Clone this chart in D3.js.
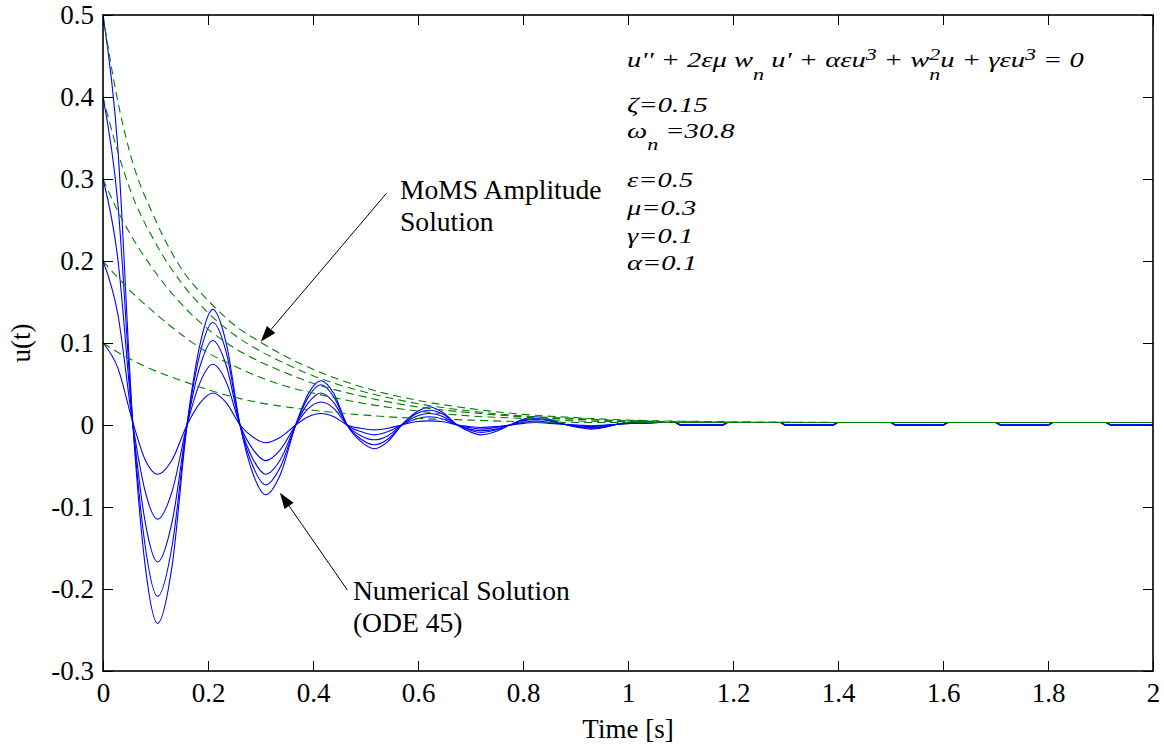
<!DOCTYPE html>
<html>
<head>
<meta charset="utf-8">
<script src="https://cdn.jsdelivr.net/npm/d3@7"></script>
<style>
  body { margin: 0; background: #fff; }
  svg text { font-family: "Liberation Serif", "Times New Roman", serif; fill: #000; }
</style>
</head>
<body>
<svg id="chart" width="1164" height="746"></svg>
<script>
const xTicks = [0, 0.2, 0.4, 0.6, 0.8, 1, 1.2, 1.4, 1.6, 1.8, 2];
const yTicks = [-0.3, -0.2, -0.1, 0, 0.1, 0.2, 0.3, 0.4, 0.5];

// Numerical solution (ODE 45), one array per initial amplitude.
const tNum = [0, 0.028, 0.057, 0.08, 0.104, 0.132, 0.16, 0.185, 0.209, 0.235, 0.261, 0.286, 0.31, 0.338,
  0.367, 0.391, 0.415, 0.44, 0.465, 0.491, 0.517, 0.543, 0.569, 0.595, 0.622, 0.648, 0.675, 0.698, 0.72,
  0.748, 0.775, 0.8, 0.825, 0.85, 0.878, 0.905, 0.93, 0.955, 0.98, 1.005, 1.03];
const num05 = [0.5, 0.34, 0, -0.17, -0.242, -0.17, 0, 0.099, 0.141, 0.099, 0, -0.06, -0.085, -0.06,
  0, 0.038, 0.054, 0.038, 0, -0.02, -0.029, -0.02, 0, 0.015, 0.022, 0.015, 0, -0.008, -0.012,
  -0.008, 0, 0.007, 0.01, 0.007, 0.001, -0.003, -0.005, -0.003, 0.001, 0.004, 0.005];
const num04 = [0.4, 0.272, 0, -0.146, -0.209, -0.146, 0, 0.088, 0.125, 0.088, 0, -0.051, -0.073, -0.051,
  0, 0.034, 0.049, 0.034, 0, -0.017, -0.024, -0.017, 0, 0.013, 0.018, 0.013, 0, -0.006, -0.009,
  -0.006, 0, 0.006, 0.008, 0.006, 0.001, -0.002, -0.004, -0.002, 0.001, 0.003, 0.004];
const num03 = [0.3, 0.204, 0, -0.117, -0.167, -0.117, 0, 0.072, 0.103, 0.072, 0, -0.042, -0.06, -0.042,
  0, 0.027, 0.039, 0.027, 0, -0.013, -0.018, -0.013, 0, 0.01, 0.014, 0.01, 0, -0.005, -0.007,
  -0.005, 0, 0.005, 0.007, 0.005, 0.001, -0.002, -0.003, -0.002, 0.001, 0.002, 0.003];
const num02 = [0.2, 0.136, 0, -0.08, -0.115, -0.08, 0, 0.052, 0.074, 0.052, 0, -0.03, -0.0435, -0.03,
  0, 0.02, 0.028, 0.02, 0, -0.008, -0.012, -0.008, 0, 0.007, 0.01, 0.007, 0, -0.003, -0.005,
  -0.003, 0, 0.003, 0.005, 0.003, 0.001, -0.001, -0.002, -0.001, 0.001, 0.002, 0.002];
const num01 = [0.1, 0.07, 0.003, -0.042, -0.06, -0.042, 0, 0.027, 0.039, 0.027, 0, -0.015, -0.0216, -0.015,
  0, 0.01, 0.014, 0.01, 0, -0.004, -0.006, -0.004, 0, 0.004, 0.005, 0.004, 0, -0.002, -0.003,
  -0.002, 0, 0.002, 0.003, 0.002, 0.001, 0, -0.001, 0, 0.001, 0.002, 0.002];
// Settled tail shared by all numerical curves (solver steps show as small dips).
const tailT = [1.06, 1.09, 1.10, 1.18, 1.19, 1.29, 1.30, 1.39, 1.40, 1.50, 1.51, 1.60, 1.61, 1.70, 1.71, 1.80, 1.81, 1.91, 1.92, 2.0];
const tailU = [0.003, 0.003, 0, 0, 0.003, 0.003, 0, 0, 0.003, 0.003, 0, 0, 0.003, 0.003, 0, 0, 0.003, 0.003, 0, 0];

// MoMS amplitude solution (dashed envelopes).
const tAmp = [0, 0.025, 0.05, 0.1, 0.15, 0.2, 0.25, 0.3, 0.35, 0.4, 0.5, 0.6, 0.7, 0.8, 0.9, 1.0, 1.2, 1.5, 2.0];
const amp05 = [0.5, 0.405, 0.335, 0.25, 0.19, 0.152, 0.122, 0.101, 0.083, 0.068, 0.045, 0.03, 0.02, 0.013, 0.009, 0.006, 0.004, 0.003, 0.003];
const amp04 = [0.4, 0.34, 0.29, 0.222, 0.173, 0.137, 0.11, 0.09, 0.074, 0.06, 0.04, 0.026, 0.017, 0.011, 0.008, 0.005, 0.0035, 0.003, 0.003];
const amp03 = [0.3, 0.265, 0.235, 0.186, 0.147, 0.117, 0.094, 0.077, 0.063, 0.051, 0.034, 0.022, 0.015, 0.01, 0.007, 0.005, 0.003, 0.003, 0.003];
const amp02 = [0.2, 0.182, 0.165, 0.136, 0.11, 0.088, 0.072, 0.058, 0.047, 0.039, 0.026, 0.017, 0.011, 0.008, 0.005, 0.004, 0.003, 0.003, 0.003];
const amp01 = [0.1, 0.09, 0.081, 0.066, 0.054, 0.043, 0.034, 0.027, 0.022, 0.018, 0.012, 0.008, 0.006, 0.004, 0.003, 0.003, 0.003, 0.003, 0.003];

const numSeries = [num01, num02, num03, num04, num05];
const ampSeries = [amp01, amp02, amp03, amp04, amp05];

const margin = {left: 103, right: 11, top: 15, bottom: 75};
const width = 1164, height = 746;
const fontSize = "27px";

const svg = d3.select("#chart");
const x = d3.scaleLinear().domain([0, 2]).range([margin.left, width - margin.right]);
const y = d3.scaleLinear().domain([-0.3, 0.5]).range([height - margin.bottom, margin.top]);

const fmt = d => String(+d.toFixed(1));

svg.append("clipPath").attr("id", "plotclip")
  .append("rect")
    .attr("x", x(0)).attr("y", y(0.5))
    .attr("width", x(2) - x(0)).attr("height", y(-0.3) - y(0.5));

const line = d3.line()
    .x(d => x(d[0]))
    .y(d => y(d[1]))
    .curve(d3.curveMonotoneX);

const plot = svg.append("g").attr("clip-path", "url(#plotclip)");

// numerical solutions (blue, solid)
numSeries.forEach(vals => {
  const pts = tNum.map((t, i) => [t, vals[i]])
    .concat(tailT.map((t, i) => [t, tailU[i]]));
  plot.append("path")
      .datum(pts)
      .attr("fill", "none")
      .attr("stroke", "#0000ff")
      .attr("stroke-width", 1.1)
      .attr("d", line);
});

// MoMS amplitude (green, dashed)
ampSeries.forEach(vals => {
  plot.append("path")
      .datum(tAmp.map((t, i) => [t, vals[i]]))
      .attr("fill", "none")
      .attr("stroke", "#008000")
      .attr("stroke-width", 1.1)
      .attr("stroke-dasharray", "8,5")
      .attr("d", line);
});

// axes, MATLAB style: ticks inside, on all four sides
const tickStyle = g => {
  g.attr("font-family", null).attr("font-size", null);
  g.select(".domain").remove();
  g.selectAll(".tick line").attr("stroke", "#000").attr("stroke-width", 1);
  g.selectAll(".tick text").style("font-size", fontSize).attr("fill", "#000");
};

svg.append("g")
    .attr("transform", `translate(0,${y(-0.3)})`)
    .call(d3.axisBottom(x).tickValues(xTicks).tickFormat(fmt).tickSizeInner(-10).tickSizeOuter(0).tickPadding(12))
    .call(tickStyle);
svg.append("g")
    .attr("transform", `translate(0,${y(0.5)})`)
    .call(d3.axisTop(x).tickValues(xTicks).tickFormat("").tickSizeInner(-10).tickSizeOuter(0))
    .call(tickStyle);
svg.append("g")
    .attr("transform", `translate(${x(0)},0)`)
    .call(d3.axisLeft(y).tickValues(yTicks).tickFormat(fmt).tickSizeInner(-10).tickSizeOuter(0).tickPadding(9))
    .call(tickStyle);
svg.append("g")
    .attr("transform", `translate(${x(2)},0)`)
    .call(d3.axisRight(y).tickValues(yTicks).tickFormat("").tickSizeInner(-10).tickSizeOuter(0))
    .call(tickStyle);

svg.append("rect")
    .attr("x", x(0)).attr("y", y(0.5))
    .attr("width", x(2) - x(0)).attr("height", y(-0.3) - y(0.5))
    .attr("fill", "none").attr("stroke", "#000").attr("stroke-width", 1.6);

// axis labels
svg.append("text")
    .attr("x", (x(0) + x(2)) / 2).attr("y", 738)
    .attr("text-anchor", "middle")
    .style("font-size", fontSize)
    .text("Time [s]");
svg.append("text")
    .attr("transform", `translate(30,${(y(0.5) + y(-0.3)) / 2}) rotate(-90)`)
    .attr("text-anchor", "middle")
    .style("font-size", fontSize)
    .text("u(t)");

// annotation arrows
function arrow(x0, y0, x1, y1) {
  const ang = Math.atan2(y1 - y0, x1 - x0);
  const len = 16, half = 5.5;
  const bx = x1 - len * Math.cos(ang), by = y1 - len * Math.sin(ang);
  const px = -Math.sin(ang) * half, py = Math.cos(ang) * half;
  svg.append("line")
      .attr("x1", x0).attr("y1", y0).attr("x2", bx).attr("y2", by)
      .attr("stroke", "#000").attr("stroke-width", 1);
  svg.append("path")
      .attr("d", `M${x1},${y1}L${bx + px},${by + py}L${bx - px},${by - py}Z`)
      .attr("fill", "#000");
}
arrow(x(0.540), y(0.2826), x(0.3004), y(0.1016));
arrow(x(0.4653), y(-0.2012), x(0.337), y(-0.0826));

const note = (tx, ty, lines) => {
  const t = svg.append("text").attr("x", x(tx)).attr("y", y(ty)).style("font-size", "27.6px");
  lines.forEach((s, i) => t.append("tspan").attr("x", x(tx)).attr("dy", i ? 32 : 0).text(s));
};
note(0.5657, 0.2756, ["MoMS Amplitude", "Solution"]);
note(0.476, -0.2134, ["Numerical Solution", "(ODE 45)"]);

// equation and parameters (italic, stretched horizontally like the original)
const eqg = svg.append("g");
const eqText = eqg.append("text")
    .attr("x", 0).attr("y", 67)
    .style("font-size", "22px").style("font-style", "italic");
const pieces = [
  ["u'' + 2εμ w"], ["n", "sub"], [" u' + αεu"], ["3", "sup"], [" + w"], ["2", "sup"], ["n", "sub", true],
  ["u + γεu"], ["3", "sup"], [" = 0"]
];
let cur = 0;
pieces.forEach(([s, kind, back]) => {
  const target = kind === "sup" ? -7 : kind === "sub" ? 13 : 0;
  const ts = eqText.append("tspan").attr("dy", target - cur).text(s);
  if (kind) ts.style("font-size", "17px");
  if (back) ts.attr("dx", "-0.5em");
  cur = target;
});

const params = [
  [112, [["ζ=0.15"]]],
  [138, [["ω"], ["n", "sub"], [" =30.8"]]],
  [187, [["ε=0.5"]]],
  [215, [["μ=0.3"]]],
  [243, [["γ=0.1"]]],
  [270, [["α=0.1"]]]
];
params.forEach(([yy, parts]) => {
  const t = eqg.append("text").attr("x", 0).attr("y", yy)
      .style("font-size", "22px").style("font-style", "italic");
  let c = 0;
  parts.forEach(([s, kind]) => {
    const target = kind === "sub" ? 12 : 0;
    const ts = t.append("tspan").attr("dy", target - c).text(s);
    if (kind) ts.style("font-size", "17px");
    c = target;
  });
});

const eqW = eqText.node().getBBox().width;
const sx = 457 / eqW;
eqg.attr("transform", `translate(${x(1.0) - 1},0) scale(${sx},1)`);
</script>
</body>
</html>
